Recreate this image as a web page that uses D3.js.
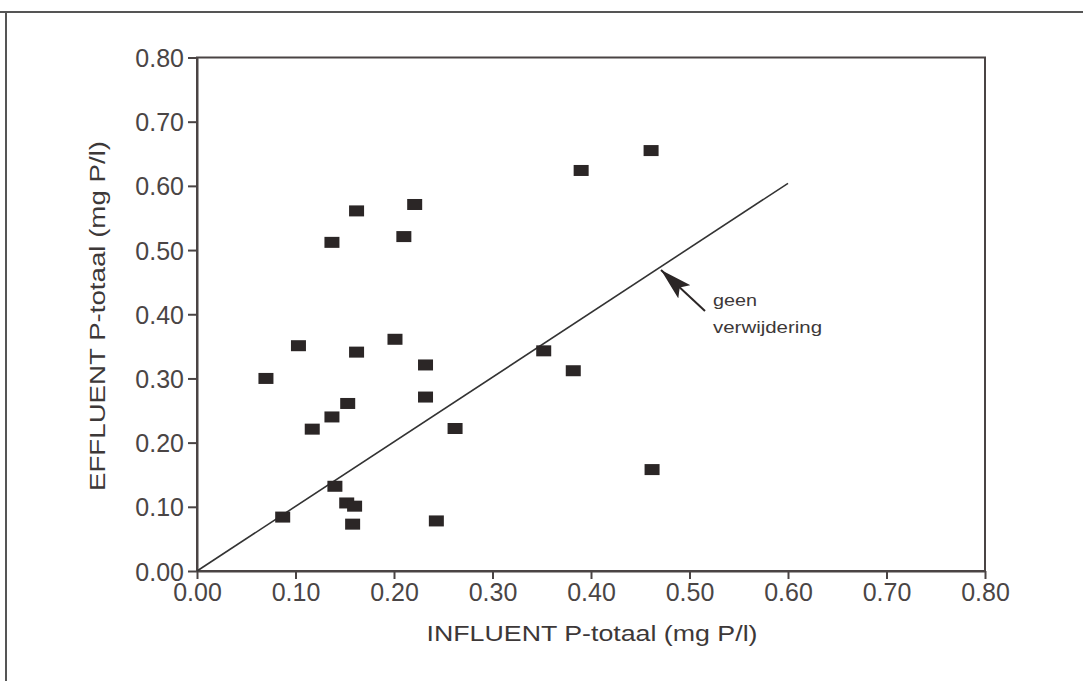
<!DOCTYPE html>
<html>
<head>
<meta charset="utf-8">
<script src="https://cdn.jsdelivr.net/npm/d3@7"></script>
<style>
  body { margin: 0; background: #fff; }
  svg { display: block; font-family: "Liberation Sans", Arial, sans-serif; }
  .axis path, .axis line { stroke: #4a4444; stroke-width: 2; }
  .axis text { fill: #4a4545; font-size: 25px; }
</style>
</head>
<body>
<div id="container"></div>
<script>
// data: influent vs effluent P-total (mg P/l)
const influent = [0.07, 0.103, 0.117, 0.137, 0.153, 0.137, 0.162, 0.162, 0.201, 0.210,
                  0.221, 0.232, 0.232, 0.262, 0.140, 0.087, 0.152, 0.160, 0.158, 0.243,
                  0.352, 0.382, 0.390, 0.461, 0.462];
const effluent = [0.30, 0.351, 0.221, 0.240, 0.261, 0.512, 0.561, 0.341, 0.361, 0.521,
                  0.571, 0.321, 0.271, 0.222, 0.132, 0.084, 0.106, 0.101, 0.073, 0.078,
                  0.343, 0.312, 0.624, 0.655, 0.158];
const xTicks = [0, 0.1, 0.2, 0.3, 0.4, 0.5, 0.6, 0.7, 0.8];
const yTicks = [0, 0.1, 0.2, 0.3, 0.4, 0.5, 0.6, 0.7, 0.8];
const refLine = [[0, 0], [0.60, 0.604]];

const width = 1083, height = 681;
const svg = d3.select("#container").append("svg")
  .attr("width", width)
  .attr("height", height);

// outer frame (top + left edges visible)
svg.append("line").attr("x1", 0).attr("x2", width).attr("y1", 12).attr("y2", 12)
  .attr("stroke", "#555").attr("stroke-width", 2);
svg.append("line").attr("x1", 6).attr("x2", 6).attr("y1", 12).attr("y2", height)
  .attr("stroke", "#555").attr("stroke-width", 2);

const x = d3.scaleLinear().domain([0, 0.8]).range([197, 985]);
const y = d3.scaleLinear().domain([0, 0.8]).range([571, 57.5]);
const fmt = d3.format(".2f");

// plot box
svg.append("rect")
  .attr("x", x(0)).attr("y", y(0.8))
  .attr("width", x(0.8) - x(0)).attr("height", y(0) - y(0.8))
  .attr("fill", "none").attr("stroke", "#4a4444").attr("stroke-width", 2);

const gx = svg.append("g").attr("class", "axis")
  .attr("transform", "translate(0," + y(0) + ")")
  .call(d3.axisBottom(x).tickValues(xTicks).tickFormat(fmt).tickSize(8).tickSizeOuter(0).tickPadding(4));
gx.selectAll(".tick text").attr("dy", "0.72em");

const gy = svg.append("g").attr("class", "axis")
  .attr("transform", "translate(" + x(0) + ",0)")
  .call(d3.axisLeft(y).tickValues(yTicks).tickFormat(fmt).tickSize(9).tickSizeOuter(0).tickPadding(4));
gy.selectAll(".tick text").attr("dy", "0.36em");

// axis titles
svg.append("text")
  .attr("x", 592).attr("y", 641)
  .attr("text-anchor", "middle")
  .attr("fill", "#3d3838").attr("font-size", 22)
  .attr("textLength", 331).attr("lengthAdjust", "spacingAndGlyphs")
  .text("INFLUENT P-totaal (mg P/l)");

svg.append("text")
  .attr("transform", "translate(105,316) rotate(-90)")
  .attr("text-anchor", "middle")
  .attr("fill", "#3d3838").attr("font-size", 22)
  .attr("textLength", 350).attr("lengthAdjust", "spacingAndGlyphs")
  .text("EFFLUENT P-totaal (mg P/l)");

// reference line (no removal)
svg.append("path")
  .attr("d", d3.line().x(d => x(d[0])).y(d => y(d[1]))(refLine))
  .attr("fill", "none").attr("stroke", "#333").attr("stroke-width", 1.6);

// points
const pts = influent.map((v, i) => ({ x: v, y: effluent[i] }));
svg.append("g").selectAll("rect")
  .data(pts).enter().append("rect")
  .attr("x", d => x(d.x) - 7.5)
  .attr("y", d => y(d.y) - 5.5)
  .attr("width", 15).attr("height", 11)
  .attr("fill", "#2b2626");

// annotation arrow
svg.append("defs").append("marker")
  .attr("id", "arrowhead")
  .attr("viewBox", "0 0 10 10").attr("refX", 10).attr("refY", 5)
  .attr("markerWidth", 32).attr("markerHeight", 18)
  .attr("markerUnits", "userSpaceOnUse")
  .attr("preserveAspectRatio", "none")
  .attr("orient", "auto")
  .append("path").attr("d", "M0,0L10,5L0,10L2,5Z").attr("fill", "#2b2626");

svg.append("line")
  .attr("x1", 705).attr("y1", 311).attr("x2", 661).attr("y2", 270)
  .attr("stroke", "#2b2626").attr("stroke-width", 2)
  .attr("marker-end", "url(#arrowhead)");

svg.append("text").attr("x", 713).attr("y", 306)
  .attr("fill", "#3d3838").attr("font-size", 17)
  .attr("textLength", 44).attr("lengthAdjust", "spacingAndGlyphs")
  .text("geen");
svg.append("text").attr("x", 713).attr("y", 333)
  .attr("fill", "#3d3838").attr("font-size", 17)
  .attr("textLength", 109).attr("lengthAdjust", "spacingAndGlyphs")
  .text("verwijdering");
</script>
</body>
</html>
